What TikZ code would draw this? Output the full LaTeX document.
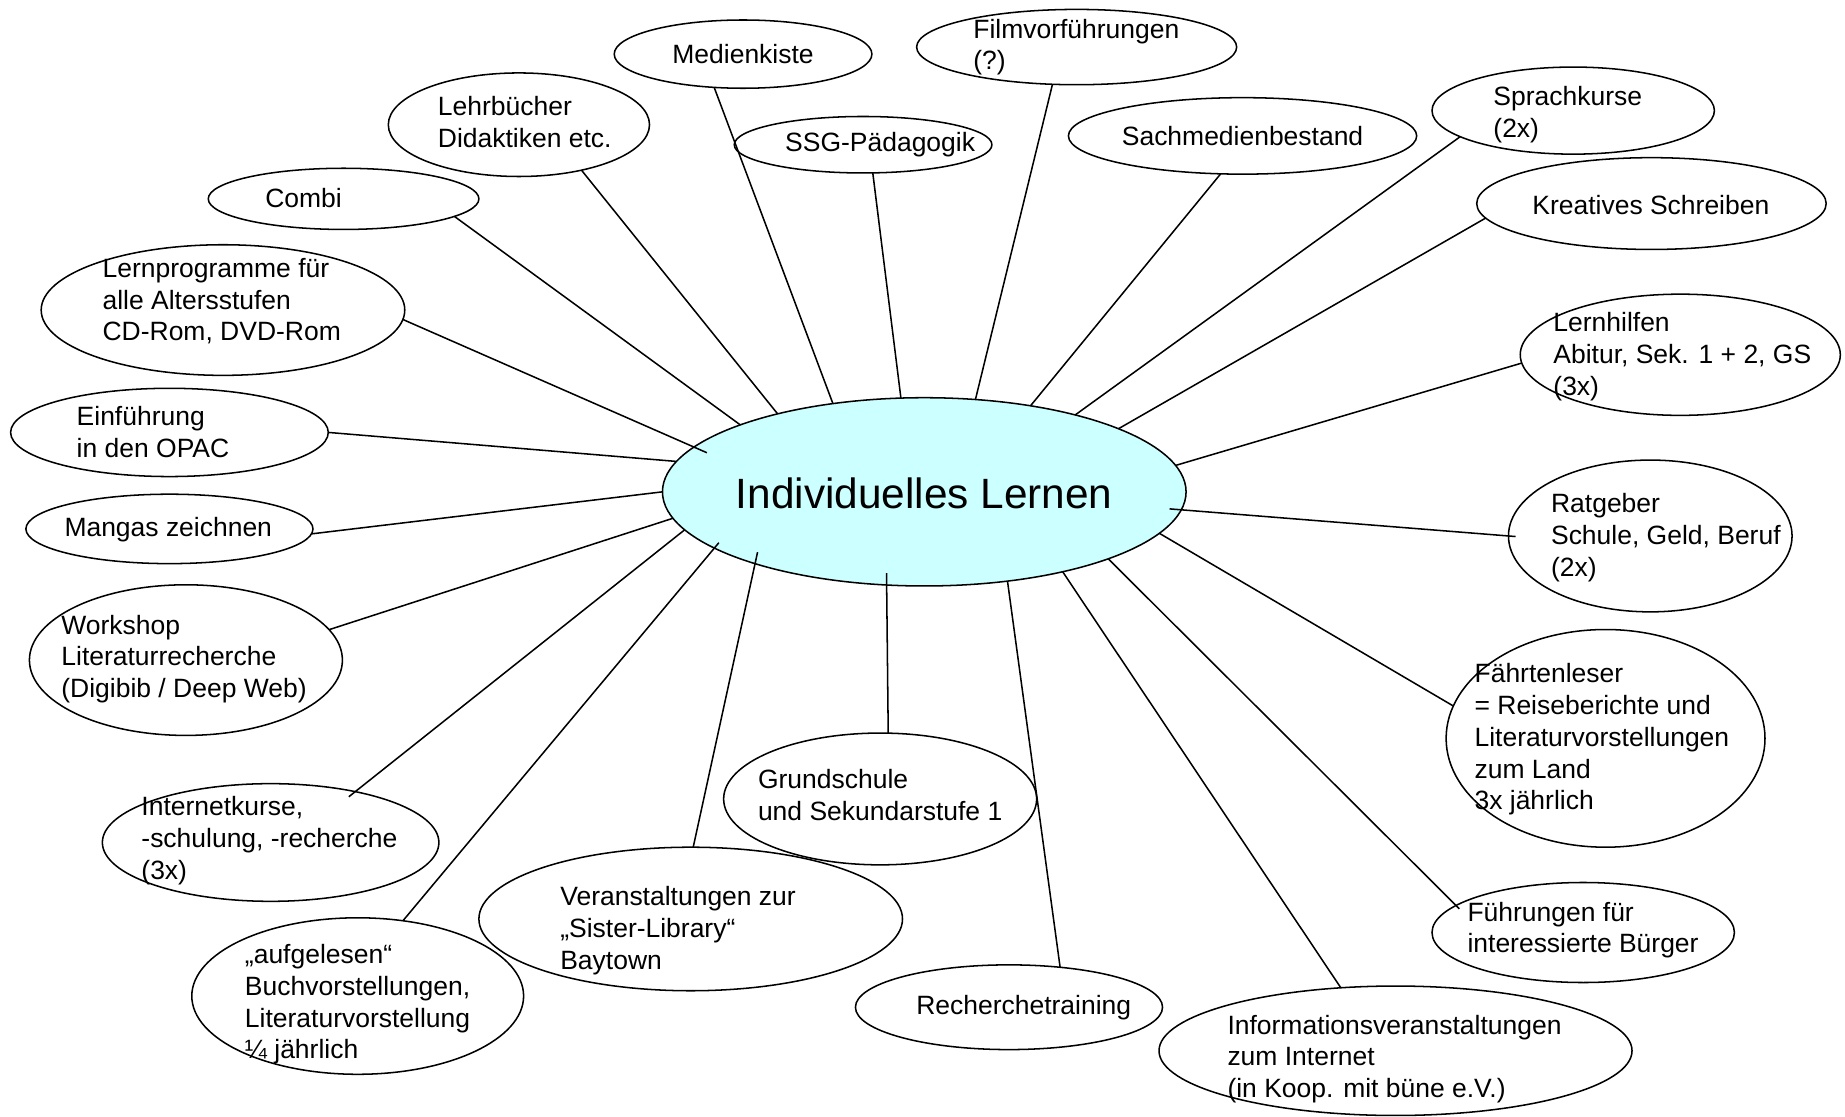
\documentclass[tikz,border=0pt]{standalone}
\usepackage{fontspec}
\setmainfont{Liberation Sans}
\usetikzlibrary{shapes.geometric}
\definecolor{hubfill}{RGB}{204,255,255}
\tikzset{
  ell/.style={ellipse, draw, line width=1.3pt, inner sep=0pt, outer sep=0pt},
  txt/.style={font=\fontsize{22.5}{27}\selectfont, align=left, inner sep=0pt, anchor=west},
  ctr/.style={font=\fontsize{22.5}{27}\selectfont, inner sep=0pt, anchor=center},
  link/.style={line width=1.3pt},
  poke/.style={shorten >=-#1},
  pokestart/.style={shorten <=-#1}
}
\begin{document}
\begin{tikzpicture}[x=1pt,y=-1pt]
\useasboundingbox (0,0) rectangle (1568,949);

% ellipses
\node[ell, fill=hubfill, minimum width=445pt, minimum height=160pt] (hub) at (785.5,418) {};
\node[ell, minimum width=219pt, minimum height=58pt] (med) at (631.5,46) {};
\node[ell, minimum width=272pt, minimum height=64pt] (film) at (915,40) {};
\node[ell, minimum width=222pt, minimum height=88pt] (lehr) at (441,106) {};
\node[ell, minimum width=219pt, minimum height=48pt] (ssg) at (733.5,123) {};
\node[ell, minimum width=296pt, minimum height=65pt] (sach) at (1056,115.5) {};
\node[ell, minimum width=240pt, minimum height=74pt] (sprach) at (1337,94) {};
\node[ell, minimum width=297pt, minimum height=78pt] (kreat) at (1403.5,173) {};
\node[ell, minimum width=230pt, minimum height=52pt] (combi) at (292,169) {};
\node[ell, minimum width=309pt, minimum height=111pt] (lernp) at (189.5,263.5) {};
\node[ell, minimum width=270pt, minimum height=75pt] (einf) at (144,367.5) {};
\node[ell, minimum width=244pt, minimum height=59pt] (manga) at (144,449.5) {};
\node[ell, minimum width=266pt, minimum height=128pt] (work) at (158,561) {};
\node[ell, minimum width=286pt, minimum height=100pt] (inet) at (230,716) {};
\node[ell, minimum width=282pt, minimum height=133pt] (aufg) at (304,846.5) {};
\node[ell, minimum width=360pt, minimum height=122pt] (veran) at (587,781) {};
\node[ell, minimum width=266pt, minimum height=112pt] (grund) at (748,679) {};
\node[ell, minimum width=261pt, minimum height=72pt] (rech) at (857.5,856) {};
\node[ell, minimum width=402pt, minimum height=110pt] (info) at (1186,893) {};
\node[ell, minimum width=257pt, minimum height=85pt] (fuehr) at (1345.5,792.5) {};
\node[ell, minimum width=271pt, minimum height=185pt] (faehrt) at (1364.5,627.5) {};
\node[ell, minimum width=241pt, minimum height=129pt] (rat) at (1402.5,455.5) {};
\node[ell, minimum width=272pt, minimum height=103pt] (lernh) at (1428,301.5) {};

% connectors
\draw[link] (med.229.7) -- (hub.136.2);
\draw[link] (film.237.7) -- (hub.61.8);
\draw[link] (lehr.-36.2) -- (hub.152.8);
\draw[link] (ssg.-71.6) -- (hub.104);
\draw[link] (sach.-120.7) -- (hub.39.9);
\draw[link] (sprach.193) -- (hub.27.3);
\draw[link] (kreat.185.9) -- (hub.18.4);
\draw[link] (combi.-9) -- (hub.160.2);
\draw[link, poke=12pt] (lernp.-3.2) -- (hub.169.4);
\draw[link] (einf.0) -- (hub.173.9);
\draw[link] (manga.-2.5) -- (hub.180);
\draw[link] (work.12.2) -- (hub.186.25);
\draw[link, pokestart=7pt] (inet.31.1) -- (hub.189.8);
\draw[link, poke=6pt] (aufg.59.9) -- (hub.195);
\draw[link, poke=10pt] (veran.88) -- (hub.203);
\draw[link, poke=10pt] (grund.83.9) -- (hub.248.3);
\draw[link] (rech.38.7) -- (hub.313.4);
\draw[link] (info.131) -- (hub.330.3);
\draw[link, pokestart=4pt] (fuehr.168.2) -- (hub.340.1);
\draw[link] (faehrt.168.2) -- (hub.350.1);
\draw[link, pokestart=6pt, poke=10pt] (rat.180) -- (hub.356.9);
\draw[link] (lernh.183.6) -- (hub.6.3);

% texts
\node[font=\fontsize{36}{43}\selectfont, inner sep=0pt] (hub-t) at (785.5,419) {Individuelles Lernen};
\node[ctr] (med-t) at (631.5,46) {Medienkiste};
\node[txt] (film-t) at (827,40) {Filmvorführungen\\(?)};
\node[txt] (lehr-t) at (372,103.5) {Lehrbücher\\Didaktiken etc.};
\node[ctr] (ssg-t) at (748,123) {SSG-Pädagogik};
\node[ctr] (sach-t) at (1056,116) {Sachmedienbestand};
\node[txt] (sprach-t) at (1269,97.5) {Sprachkurse\\(2x)};
\node[ctr] (kreat-t) at (1403,174) {Kreatives Schreiben};
\node[ctr] (combi-t) at (258,168) {Combi};
\node[txt] (lernp-t) at (87,256) {Lernprogramme für\\alle Altersstufen\\CD-Rom, DVD-Rom};
\node[txt] (einf-t) at (65,367) {Einführung\\in den OPAC};
\node[ctr] (manga-t) at (143,450) {Mangas zeichnen};
\node[txt] (work-t) at (52,560) {Workshop\\Literaturrecherche\\(Digibib / Deep Web)};
\node[txt] (inet-t) at (120,714.5) {Internetkurse,\\-schulung, -recherche\\(3x)};
\node[txt] (aufg-t) at (208,853.5) {„aufgelesen“\\Buchvorstellungen,\\Literaturvorstellung\\¼ jährlich};
\node[txt] (veran-t) at (476,791) {Veranstaltungen zur\\„Sister-Library“\\Baytown};
\node[txt] (grund-t) at (644,675.5) {Grundschule\\und Sekundarstufe 1};
\node[ctr] (rech-t) at (870,856) {Recherchetraining};
\node[txt] (info-t) at (1043,900) {Informationsveranstaltungen\\zum Internet\\(in Koop. mit büne e.V.)};
\node[txt] (fuehr-t) at (1247,790.5) {Führungen für\\interessierte Bürger};
\node[txt] (faehrt-t) at (1253,628.5) {Fährtenleser\\= Reiseberichte und\\Literaturvorstellungen\\zum Land\\3x jährlich};
\node[txt] (rat-t) at (1318,457) {Ratgeber\\Schule, Geld, Beruf\\(2x)};
\node[txt] (lernh-t) at (1320,303) {Lernhilfen\\Abitur, Sek. 1 + 2, GS\\(3x)};
\end{tikzpicture}
\end{document}
